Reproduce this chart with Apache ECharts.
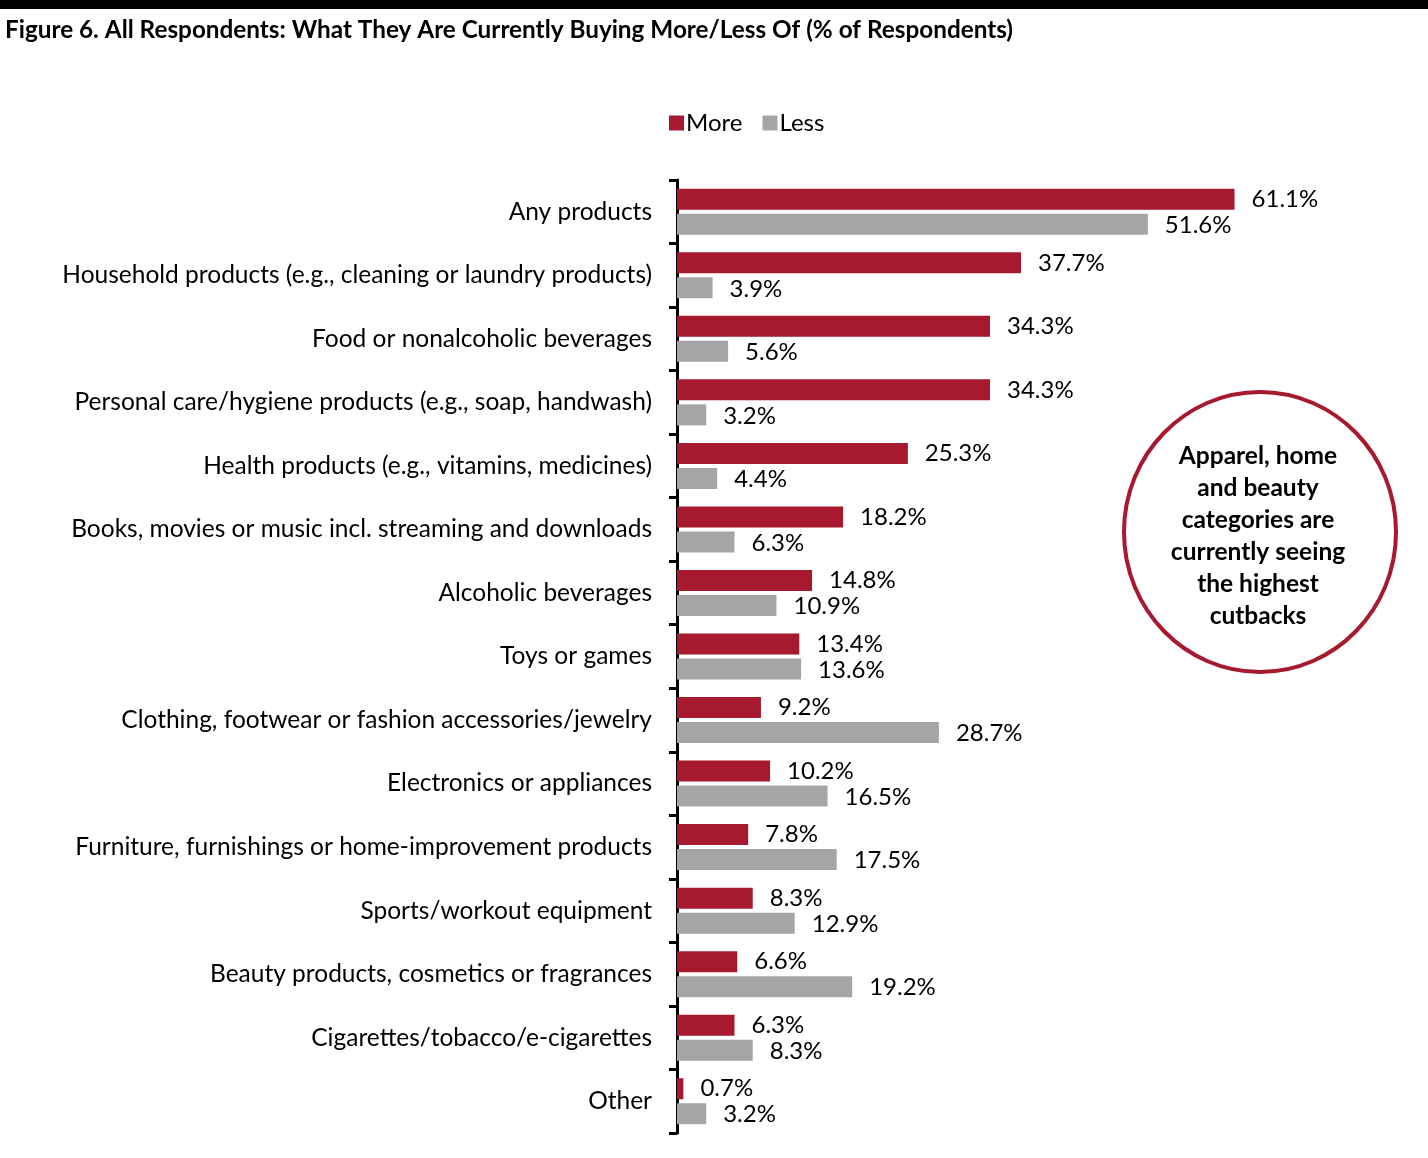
<!DOCTYPE html>
<html><head><meta charset="utf-8">
<script src="https://cdn.jsdelivr.net/npm/echarts@6/dist/echarts.min.js"></script>
<style>html,body{margin:0;padding:0;background:#fff}#c{width:1428px;height:1158px}</style>
</head><body><div id="c"></div>
<script>
const categories = [
  "Any products",
  "Household products (e.g., cleaning or laundry products)",
  "Food or nonalcoholic beverages",
  "Personal care/hygiene products (e.g., soap, handwash)",
  "Health products (e.g., vitamins, medicines)",
  "Books, movies or music incl. streaming and downloads",
  "Alcoholic beverages",
  "Toys or games",
  "Clothing, footwear or fashion accessories/jewelry",
  "Electronics or appliances",
  "Furniture, furnishings or home-improvement products",
  "Sports/workout equipment",
  "Beauty products, cosmetics or fragrances",
  "Cigarettes/tobacco/e-cigarettes",
  "Other"
];
const moreValues = [61.1, 37.7, 34.3, 34.3, 25.3, 18.2, 14.8, 13.4, 9.2, 10.2, 7.8, 8.3, 6.6, 6.3, 0.7];
const lessValues = [51.6, 3.9, 5.6, 3.2, 4.4, 6.3, 10.9, 13.6, 28.7, 16.5, 17.5, 12.9, 19.2, 8.3, 3.2];
const titleText = "Figure 6. All Respondents: What They Are Currently Buying More/Less Of (% of Respondents)";
const calloutText = "Apparel, home\nand beauty\ncategories are\ncurrently seeing\nthe highest\ncutbacks";

const RED = "#A6192E", GRAY = "#A5A5A5";
const FONT = "Lato";
const chart = echarts.init(document.getElementById('c'), null, {renderer: 'canvas'});
const lbl = {show: true, position: 'right', distance: 17, color: '#000', fontSize: 24, fontFamily: FONT,
  formatter: p => p.value.toFixed(1) + '%'};
chart.setOption({
  animation: false,
  textStyle: {fontFamily: FONT},
  legend: {
    top: 106, left: 664, itemWidth: 15, itemHeight: 15, itemGap: 20, icon: 'rect',
    textStyle: {fontSize: 24, color: '#000', fontFamily: FONT, padding: [0, 0, 0, -3]},
    data: ['More', 'Less']
  },
  grid: {left: 677, right: 21, top: 180, bottom: 25, containLabel: false},
  xAxis: {type: 'value', min: 0, max: 80, show: false},
  yAxis: {
    type: 'category', data: categories, inverse: true,
    axisLine: {show: true, lineStyle: {color: '#000', width: 3}},
    axisTick: {show: true, length: 8, lineStyle: {color: '#000', width: 3}},
    axisLabel: {fontSize: 24.5, color: '#000', fontFamily: FONT, margin: 25}
  },
  series: [
    {name: 'More', type: 'bar', data: moreValues, barWidth: 21, barGap: '19%', itemStyle: {color: RED}, label: lbl},
    {name: 'Less', type: 'bar', data: lessValues, barWidth: 21, itemStyle: {color: GRAY}, label: {...lbl, offset: [0, 1]}}
  ],
  graphic: [
    {type: 'rect', shape: {x: 0, y: 0, width: 1428, height: 9}, style: {fill: '#000'}},
    {type: 'text', x: 5, y: 30, style: {text: titleText, fontSize: 24.3, fontWeight: 'bold', fontFamily: FONT,
      fill: '#000', verticalAlign: 'middle'}},
    {type: 'ellipse', shape: {cx: 1260, cy: 532, rx: 136, ry: 140}, style: {fill: '#fff', stroke: RED, lineWidth: 4}},
    {type: 'text', x: 1258, y: 536, style: {text: calloutText, align: 'center', verticalAlign: 'middle',
      fontSize: 24.5, fontWeight: 'bold', fontFamily: FONT, lineHeight: 32, fill: '#000'}}
  ]
});
</script></body></html>
